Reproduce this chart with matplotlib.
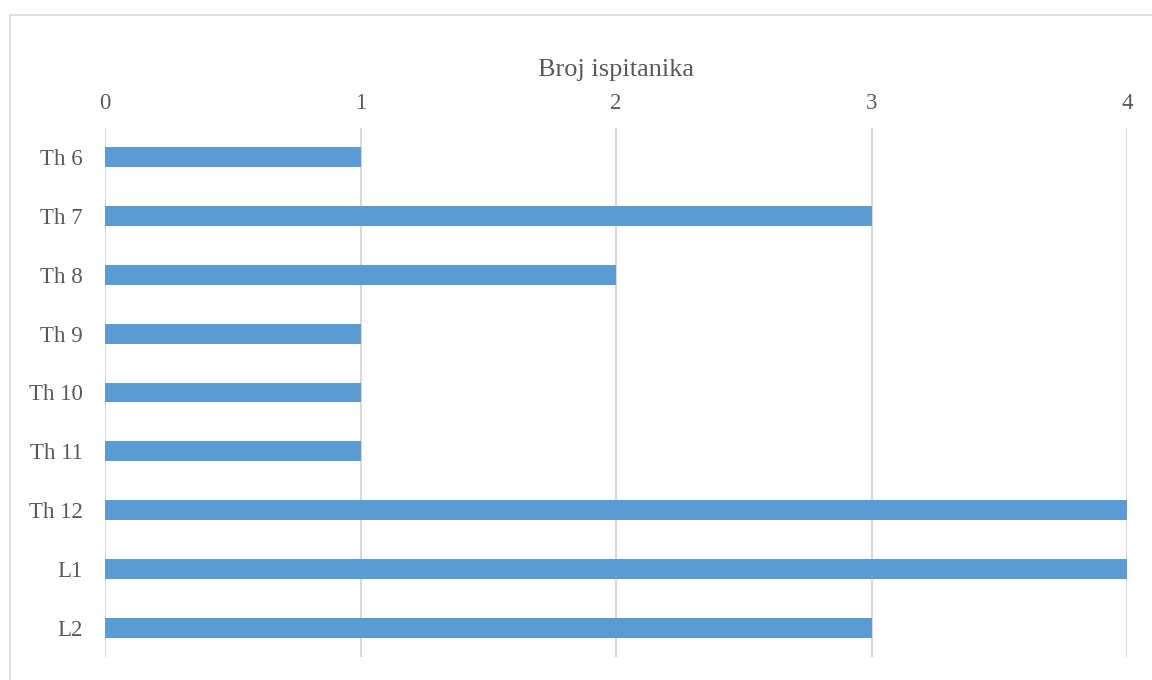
import matplotlib
matplotlib.use("Agg")
import matplotlib.pyplot as plt
from matplotlib.patches import Rectangle

# Data
categories = ["Th 6", "Th 7", "Th 8", "Th 9", "Th 10", "Th 11", "Th 12", "L1", "L2"]
counts = [1, 3, 2, 1, 1, 1, 4, 4, 3]
x_ticks = [0, 1, 2, 3, 4]
axis_title = "Broj ispitanika"

W, H = 1152, 680
fig = plt.figure(figsize=(W / 100, H / 100), dpi=100)
fig.patch.set_facecolor("white")

# Outer chart frame
fig.patches.append(Rectangle((10 / W, -0.05), 1.2, 1 - 15 / H + 0.05,
                             transform=fig.transFigure, fill=False,
                             edgecolor="#d9d9d9", linewidth=1.2))

left, right, top, bottom = 105, 1127, 128, 657
ax = fig.add_axes([left / W, 1 - bottom / H, (right - left) / W, (bottom - top) / H])

text_color = "#595959"
grid_color = "#d9d9d9"
font = ["Liberation Serif", "DejaVu Serif"]

y = list(range(len(categories)))
ax.barh(y, counts, height=0.34, color="#5B9BD5", zorder=3)

ax.set_xlim(x_ticks[0], x_ticks[-1])
ax.set_ylim(len(categories) - 0.5, -0.5)
ax.set_xticks(x_ticks)
ax.set_yticks(y)
ax.set_yticklabels(categories, family=font, fontsize=16.5, color=text_color)
ax.set_xticklabels([str(t) for t in x_ticks], family=font, fontsize=16.5, color=text_color)

ax.xaxis.tick_top()
ax.xaxis.set_label_position("top")
ax.set_xlabel(axis_title, family=font, fontsize=19, color=text_color, labelpad=12)

ax.tick_params(axis="both", length=0)
ax.tick_params(axis="x", pad=10)
ax.tick_params(axis="y", pad=16)

for s in ax.spines.values():
    s.set_visible(False)
ax.grid(axis="x", color=grid_color, linewidth=1.5, zorder=0)
ax.set_axisbelow(True)

fig.savefig("out.png", dpi=100, facecolor="white")
